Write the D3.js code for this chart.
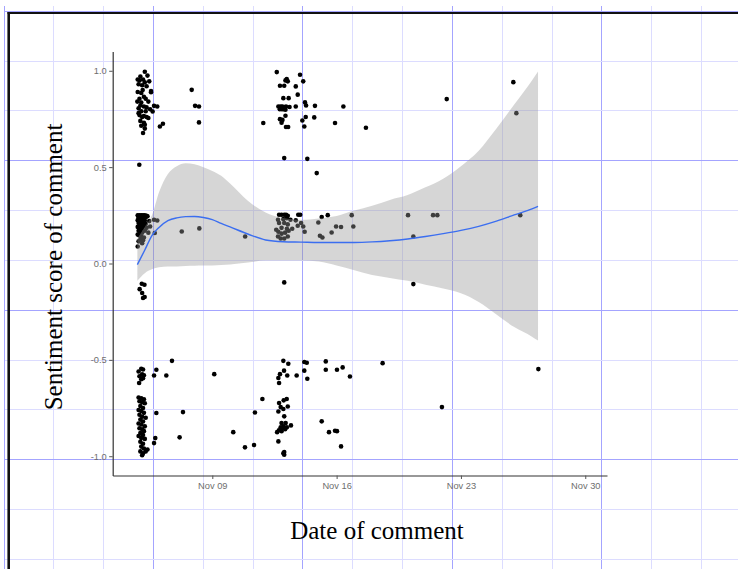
<!DOCTYPE html>
<html><head><meta charset="utf-8">
<script src="https://cdn.jsdelivr.net/npm/d3@7"></script>
<style>html,body{margin:0;padding:0;background:#fff;}svg{display:block}</style>
</head><body>
<svg id="chart" width="738" height="569"></svg>
<script>
// ---- data: [day of November (fractional), sentiment score] ----
const earlyNovPoints = [
  [5.20,0.995],[5.35,0.975],[4.95,0.97],[4.80,0.955],[5.10,0.955],[5.45,0.945],[4.85,0.93],[5.05,0.925],
  [5.30,0.92],[4.90,0.95],[5.20,0.94],[5.55,0.895],[4.80,0.89],[5.00,0.885],[5.08,0.90],[5.15,0.865],
  [4.90,0.855],[5.25,0.855],[5.00,0.835],[5.40,0.84],[4.78,0.84],[5.15,0.815],[4.85,0.805],[5.30,0.81],
  [4.95,0.82],[5.00,0.79],[5.25,0.79],[5.50,0.80],[4.85,0.78],[4.90,0.77],[5.15,0.765],[5.30,0.76],
  [5.40,0.755],[5.05,0.76],[4.95,0.74],[5.15,0.73],[5.20,0.72],[5.00,0.715],[5.20,0.70],[5.10,0.677],
  [5.55,0.889],[5.64,0.789],[5.72,0.818],[5.90,0.815],[6.05,0.711],[6.22,0.725],
  [7.84,0.901],[8.03,0.818],[8.25,0.815],[8.25,0.732],[4.89,0.512],
  [4.80,0.25],[4.90,0.25],[5.00,0.25],[5.10,0.25],[5.20,0.25],[5.30,0.248],[4.85,0.24],[4.95,0.242],
  [5.05,0.24],[5.15,0.243],[5.25,0.24],[5.35,0.245],[4.80,0.225],[4.90,0.23],[5.00,0.22],[5.10,0.228],
  [5.20,0.222],[4.85,0.21],[4.95,0.205],[5.05,0.20],[5.15,0.21],[5.25,0.205],[4.80,0.19],[4.90,0.185],
  [5.00,0.18],[5.10,0.19],[5.30,0.185],[4.85,0.17],[4.95,0.165],[5.05,0.16],[5.20,0.17],[4.80,0.15],
  [4.90,0.145],[5.00,0.14],[5.15,0.135],[4.95,0.125],[5.10,0.12],[4.85,0.115],[5.05,0.105],[4.80,0.088],
  [5.45,0.22],[5.72,0.227],[5.90,0.223],[5.50,0.192],[5.76,0.158],[5.40,0.16],[7.28,0.166],[8.27,0.182],
  [10.85,0.14],
  [5.03,-0.105],[5.18,-0.11],[4.91,-0.133],[5.05,-0.153],[5.19,-0.174],[5.10,-0.179],
  [6.73,-0.505],[5.00,-0.546],[5.10,-0.55],[4.85,-0.56],[5.05,-0.575],[5.15,-0.58],[4.90,-0.585],
  [5.00,-0.60],[5.10,-0.595],[4.88,-0.62],[5.85,-0.551],[5.72,-0.581],[6.41,-0.581],[9.11,-0.574],
  [4.85,-0.695],[5.00,-0.70],[5.15,-0.705],[4.90,-0.715],[5.05,-0.72],[5.20,-0.725],[4.95,-0.74],
  [5.10,-0.75],[4.85,-0.76],[5.00,-0.765],[5.15,-0.775],[4.90,-0.785],[5.05,-0.795],[5.25,-0.80],
  [4.95,-0.81],[5.10,-0.82],[4.85,-0.83],[5.00,-0.835],[5.20,-0.845],[4.90,-0.855],[5.05,-0.86],
  [5.15,-0.87],[4.95,-0.88],[5.10,-0.89],[4.85,-0.895],[5.00,-0.905],[5.20,-0.91],[4.95,-0.925],
  [5.10,-0.935],[5.00,-0.95],[5.15,-0.96],[4.95,-0.975],[5.10,-0.985],[5.25,-0.975],[5.35,-0.965],
  [5.05,-0.995],
  [5.85,-0.776],[7.35,-0.771],[7.16,-0.902],[5.72,-0.932],[5.79,-0.906],[10.18,-0.875],[10.84,-0.954],
  [11.35,-0.942],[11.40,-0.773],[11.82,-0.703]
];
const midNovPoints = [
  [12.63,0.993],[13.94,0.979],[13.19,0.957],[13.12,0.95],[13.25,0.945],[14.12,0.945],[12.81,0.922],
  [13.05,0.922],[13.70,0.919],[13.81,0.876],[13.00,0.858],[13.30,0.858],[14.22,0.836],[14.28,0.82],
  [12.72,0.815],[12.85,0.815],[12.95,0.815],[13.05,0.81],[13.15,0.815],[13.35,0.812],[12.80,0.80],
  [12.92,0.80],[13.02,0.80],[13.12,0.798],[13.70,0.815],[14.78,0.818],[16.38,0.815],[13.12,0.767],
  [12.81,0.749],[12.95,0.745],[12.90,0.73],[14.07,0.742],[14.26,0.76],[14.74,0.758],[11.87,0.729],
  [13.15,0.708],[13.27,0.708],[14.18,0.711],[15.91,0.729],[17.65,0.704],[13.05,0.547],[14.35,0.543],
  [14.88,0.469],
  [12.76,0.253],[12.90,0.253],[13.05,0.253],[13.15,0.253],[13.25,0.248],[13.84,0.253],[13.95,0.253],
  [12.70,0.227],[13.00,0.23],[13.20,0.235],[13.40,0.227],[13.70,0.224],[12.76,0.21],[13.05,0.21],
  [13.25,0.203],[12.90,0.185],[13.20,0.18],[12.60,0.175],[12.72,0.165],[12.90,0.155],[13.10,0.16],
  [13.30,0.17],[13.50,0.18],[12.70,0.14],[12.85,0.13],[13.05,0.13],[13.25,0.14],[13.81,0.196],
  [14.12,0.192],[14.20,0.165],[14.00,0.21],[15.16,0.241],[15.50,0.251],[14.97,0.213],[15.06,0.144],
  [15.20,0.135],[15.97,0.192],[16.25,0.189],[15.72,0.161],[16.85,0.251],[16.94,0.192],[13.05,-0.098],
  [13.00,-0.505],[13.28,-0.52],[14.18,-0.511],[14.32,-0.515],[15.39,-0.508],[15.39,-0.551],[16.02,-0.551],
  [16.34,-0.539],[16.75,-0.586],[14.18,-0.556],[14.35,-0.598],[13.75,-0.581],[13.04,-0.556],[12.81,-0.574],
  [13.22,-0.581],[12.72,-0.594],[12.76,-0.62],[18.59,-0.517],
  [12.76,-0.724],[13.19,-0.703],[13.02,-0.71],[12.85,-0.745],[13.25,-0.742],[12.72,-0.768],[13.00,-0.755],
  [13.05,-0.793],[12.90,-0.828],[13.13,-0.828],[13.43,-0.84],[12.85,-0.85],[13.00,-0.845],[12.75,-0.865],
  [12.90,-0.87],[13.10,-0.86],[12.65,-0.875],[12.95,-0.855],[13.20,-0.85],[12.72,-0.923],[13.05,-0.978],
  [13.05,-0.992],[13.00,-0.985],[15.16,-0.819],[15.57,-0.875],[15.91,-0.868],[16.02,-0.87],[16.25,-0.949]
];
const lateNovPoints = [
  [22.2,0.853],[25.95,0.941],[26.12,0.78],[20.02,0.251],[21.43,0.251],[21.67,0.251],[20.32,0.14],
  [26.34,0.251],[20.32,-0.107],[21.93,-0.745],[27.36,-0.548]
];

// loess smooth with 95% band
const smoothDay   = [4.78,5.2,5.6,6.0,6.5,7.0,7.5,8.0,8.5,9,9.5,10,11,12,13,14,15,16,17,18,19,20,21,22,23,24,25,26,27,27.34];
const smoothFit   = [-0.006,0.07,0.145,0.187,0.222,0.237,0.243,0.244,0.239,0.228,0.208,0.19,0.153,0.122,0.113,0.111,0.109,0.109,0.109,0.112,0.118,0.127,0.14,0.155,0.172,0.193,0.22,0.252,0.283,0.296];
const smoothUpper = [0.13,0.19,0.25,0.37,0.465,0.505,0.52,0.515,0.50,0.48,0.455,0.415,0.325,0.265,0.236,0.227,0.234,0.247,0.275,0.30,0.33,0.355,0.395,0.44,0.505,0.585,0.70,0.825,0.95,0.996];
const smoothLower = [-0.09,-0.05,-0.03,-0.02,-0.015,-0.015,-0.013,-0.012,-0.011,-0.01,-0.008,-0.005,0.005,0.015,0.015,0.015,0.01,-0.01,-0.035,-0.06,-0.075,-0.09,-0.11,-0.13,-0.155,-0.20,-0.265,-0.33,-0.38,-0.40];

const xTickDays   = [9,16,23,30];
const yTickValues = [-1.0,-0.5,0.0,0.5,1.0];
const xDomainDays = [3.392,31.224];
const yDomain     = [-1.1,1.1];
const xTitle = "Date of comment";
const yTitle = "Sentiment score of comment";

// ---- drawing ----
const toDate = d => new Date(Date.UTC(2020,10,1) + (d-1)*864e5);
const svg = d3.select("#chart");
const W = 738, H = 569;

// page grid background (crisp 1px lines)
const grid = svg.append("g").attr("shape-rendering","crispEdges");
const step = 49.83;
for (let k = 0; k < 16; k++) {
  const gx = Math.round(3.5 + k*step) + 0.5;
  if (gx > W) break;
  grid.append("line").attr("x1",gx).attr("x2",gx).attr("y1",6).attr("y2",H)
    .attr("stroke", k%3===0 ? "#a4a4ff" : "#dcdcff").attr("stroke-width",1);
}
for (let k = 0; k < 13; k++) {
  const gy = Math.round(10.7 + k*step) + 0.5;
  if (gy > H) break;
  grid.append("line").attr("x1",4.5).attr("x2",W).attr("y1",gy).attr("y2",gy)
    .attr("stroke", k%3===0 ? "#a4a4ff" : "#dcdcff").attr("stroke-width",1);
}
// black frame
svg.append("line").attr("x1",8.7).attr("x2",8.7).attr("y1",12).attr("y2",H).attr("stroke","#111").attr("stroke-width",2.6);
svg.append("line").attr("x1",7.5).attr("x2",W).attr("y1",13).attr("y2",13).attr("stroke","#111").attr("stroke-width",2.2);

const x = d3.scaleUtc().domain(xDomainDays.map(toDate)).range([112.7,607]);
const y = d3.scaleLinear().domain(yDomain).range([475.5,51.5]);

// points
const allPoints = earlyNovPoints.concat(midNovPoints, lateNovPoints);
svg.append("g").selectAll("circle").data(allPoints).join("circle")
  .attr("cx", d => x(toDate(d[0]))).attr("cy", d => y(d[1])).attr("r",2.3).attr("fill","#000");

// ribbon
const smooth = smoothDay.map((d,i) => ({d, fit:smoothFit[i], lo:smoothLower[i], hi:smoothUpper[i]}));
svg.append("path").datum(smooth)
  .attr("d", d3.area().x(p => x(toDate(p.d))).y0(p => y(p.lo)).y1(p => y(p.hi)).curve(d3.curveMonotoneX))
  .attr("fill","#999999").attr("fill-opacity",0.4);
svg.append("path").datum(smooth)
  .attr("d", d3.line().x(p => x(toDate(p.d))).y(p => y(p.fit)).curve(d3.curveMonotoneX))
  .attr("fill","none").attr("stroke","#3b6ef0").attr("stroke-width",1.4);

// axes
const xAxis = svg.append("g").attr("transform","translate(0,475.5)")
  .call(d3.axisBottom(x).tickValues(xTickDays.map(toDate)).tickFormat(d3.utcFormat("%b %d")).tickSize(3.5).tickSizeOuter(0));
const yAxis = svg.append("g").attr("transform","translate(112.7,0)")
  .call(d3.axisLeft(y).tickValues(yTickValues).tickFormat(v => v.toFixed(1)).tickSize(3.5).tickSizeOuter(0));
[xAxis,yAxis].forEach(a => {
  a.select(".domain").attr("stroke","#333").attr("stroke-width",1.2);
  a.selectAll(".tick line").attr("stroke","#555");
  a.selectAll(".tick text").attr("fill","#6e6e6e").attr("font-family","'Liberation Sans',Arial,sans-serif").attr("font-size",9.3);
});
xAxis.selectAll(".tick text").attr("dy","0.95em").attr("y",5);
yAxis.selectAll(".tick text").attr("x",-6);

// titles
svg.append("text").attr("x",377).attr("y",539).attr("text-anchor","middle")
  .attr("font-family","'Liberation Serif','Times New Roman',serif").attr("font-size",25).attr("fill","#000").text(xTitle);
svg.append("text").attr("transform","translate(61.5,267) rotate(-90)").attr("text-anchor","middle")
  .attr("font-family","'Liberation Serif','Times New Roman',serif").attr("font-size",25).attr("fill","#000").text(yTitle);
</script>
</body></html>
